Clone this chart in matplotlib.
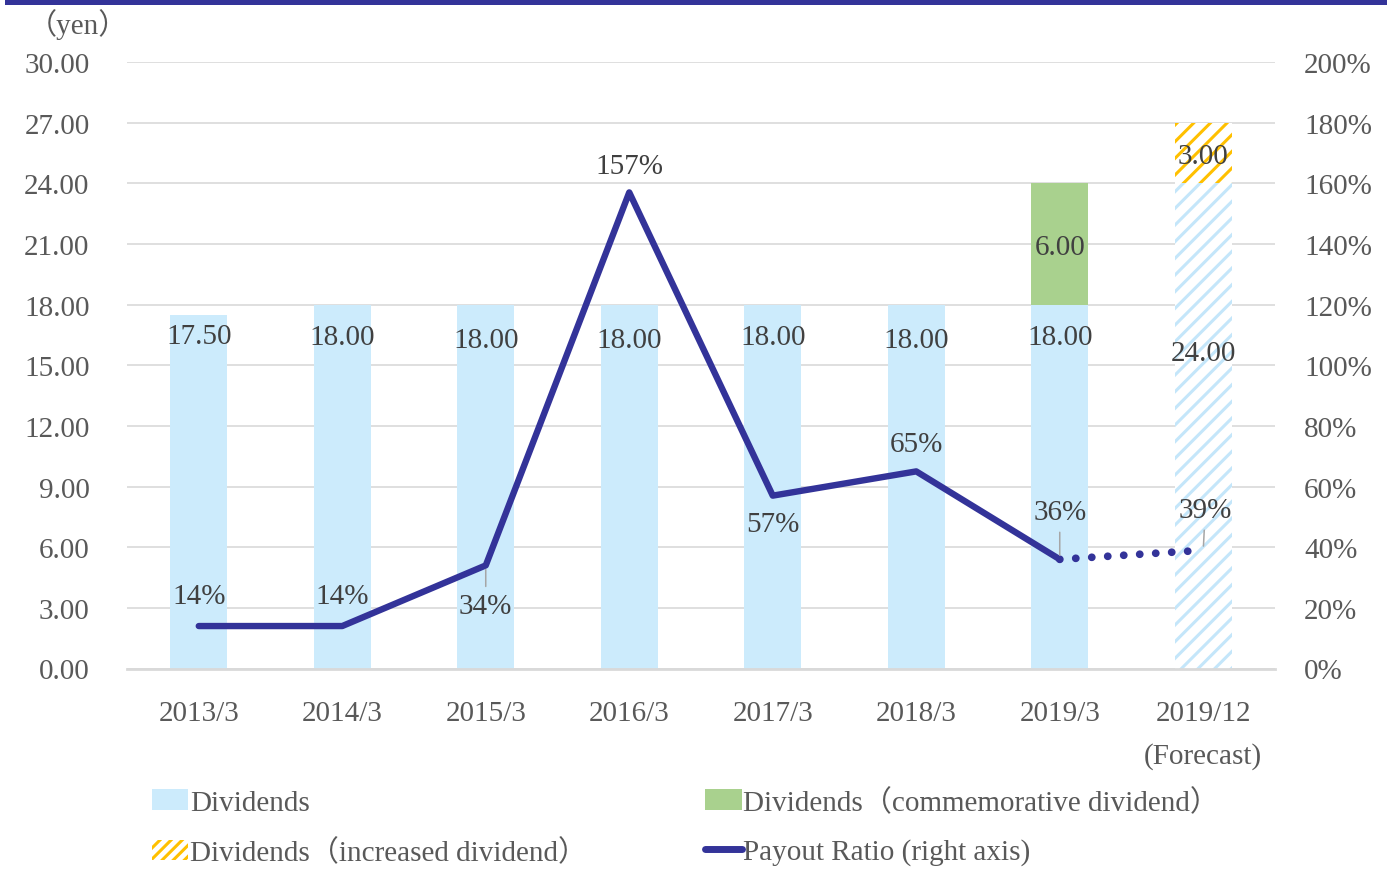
import matplotlib
matplotlib.use("Agg")
import matplotlib.pyplot as plt
from matplotlib.patches import Rectangle, Patch
from matplotlib.lines import Line2D
import numpy as np

# ---- data ----
categories = ["2013/3", "2014/3", "2015/3", "2016/3", "2017/3", "2018/3", "2019/3", "2019/12\n(Forecast)"]
dividends = [17.50, 18.00, 18.00, 18.00, 18.00, 18.00, 18.00, 24.00]
commemorative = [0, 0, 0, 0, 0, 0, 6.00, 0]
increased = [0, 0, 0, 0, 0, 0, 0, 3.00]
payout_ratio = [14, 14, 34, 157, 57, 65, 36, 39]  # percent

yen_ticks = np.arange(0, 30.01, 3)
pct_ticks = np.arange(0, 200.1, 20)

# ---- style ----
FONT = ["Liberation Serif", "Noto Sans CJK JP", "DejaVu Sans"]
plt.rcParams["font.family"] = FONT
plt.rcParams["hatch.linewidth"] = 2.2
FS = 21
C_BLUE = "#CCEBFC"
C_HATCH_BLUE = "#C4E6FA"
C_GREEN = "#A9D18E"
C_ORANGE = "#FFC000"
C_LINE = "#333399"
C_TEXT = "#404040"
C_TICK = "#595959"
C_GRID = "#D9D9D9"

fig = plt.figure(figsize=(13.87, 8.70), dpi=100)
ax = fig.add_axes([127 / 1387, 1 - 669.5 / 870, (1275 - 127) / 1387, (669.5 - 63) / 870])
ax2 = ax.twinx()

x = np.arange(len(categories))
w = 0.4
n = len(categories)

# base dividends; the forecast column is hatched
for i in range(n):
    if i == n - 1:
        ax.bar(x[i], dividends[i], width=w, color="white", edgecolor=C_HATCH_BLUE,
               hatch="//", linewidth=0, zorder=2)
    else:
        ax.bar(x[i], dividends[i], width=w, color=C_BLUE, linewidth=0, zorder=2)

base = np.array(dividends)
ax.bar(x, commemorative, width=w, bottom=base, color=C_GREEN, linewidth=0, zorder=2)
base2 = base + np.array(commemorative)
ax.bar(x, increased, width=w, bottom=base2, color="white", edgecolor=C_ORANGE,
       hatch="//", linewidth=0, zorder=2)

ax.set_xlim(-0.5, n - 0.5)
ax.set_ylim(0, 30)
ax.set_yticks(yen_ticks)
ax.set_yticklabels([f"{v:.2f}" for v in yen_ticks])
ax.set_xticks(x)
ax.set_xticklabels(categories, linespacing=1.75)
ax.grid(axis="y", color=C_GRID, linewidth=1.2, zorder=0)
ax.set_axisbelow(True)
for s in ["top", "right", "left"]:
    ax.spines[s].set_visible(False)
ax.spines["bottom"].set_color(C_GRID)
ax.spines["bottom"].set_linewidth(2)
ax.tick_params(axis="both", length=0, labelsize=FS, labelcolor=C_TICK)
ax.tick_params(axis="y", pad=27)
ax.tick_params(axis="x", pad=23)

ax2.set_ylim(0, 200)
ax2.set_yticks(pct_ticks)
ax2.set_yticklabels([f"{int(v)}%" for v in pct_ticks])
for s in ["top", "right", "left", "bottom"]:
    ax2.spines[s].set_visible(False)
ax2.tick_params(axis="y", length=0, labelsize=FS, labelcolor=C_TICK, pad=21)

# payout ratio: actual (solid) and forecast (dotted)
ax2.plot(x[:-1], payout_ratio[:-1], color=C_LINE, linewidth=4.6,
         solid_capstyle="round", solid_joinstyle="round", zorder=5)
ax2.plot(x[-2:], payout_ratio[-2:], color=C_LINE, linewidth=5.6,
         linestyle=(0, (0.01, 2.05)), dash_capstyle="round", zorder=5)

# bar value labels
base_label_y = [16.45, 16.4, 16.25, 16.25, 16.4, 16.25, 16.4, 15.6]
for i in range(n):
    ax.text(x[i], base_label_y[i], f"{dividends[i]:.2f}", ha="center", va="center",
            fontsize=FS, color=C_TEXT, zorder=6)
for i in range(n):
    if commemorative[i]:
        ax.text(x[i], dividends[i] + commemorative[i] / 2 - 0.15, f"{commemorative[i]:.2f}",
                ha="center", va="center", fontsize=FS, color=C_TEXT, zorder=6)
    if increased[i]:
        ax.text(x[i], base2[i] + increased[i] / 2 - 0.15, f"{increased[i]:.2f}",
                ha="center", va="center", fontsize=FS, color=C_TEXT, zorder=6)

# payout labels: (dx, dy) offsets in pixels, leader flag
pct_offsets = [(0, 30), (0, 30), (0, -41), (0, 26), (0, -28), (0, 27), (0, 47), (2, 40)]
pct_leader = [False, False, True, False, False, False, True, True]
px = 72 / 100
for i in range(n):
    dx, dy = pct_offsets[i]
    kw = {}
    if pct_leader[i]:
        kw["arrowprops"] = dict(arrowstyle="-", color="#A6A6A6", lw=1.1,
                                shrinkA=3, shrinkB=3)
    ax2.annotate(f"{payout_ratio[i]}%", xy=(x[i], payout_ratio[i]),
                 xytext=(dx * px, dy * px), textcoords="offset points",
                 ha="center", va="center", fontsize=FS, color=C_TEXT, zorder=7, **kw)

# unit label and top rule
fig.text(28 / 1387, 1 - 25 / 870, "（yen）", fontsize=FS, color=C_TICK,
         ha="left", va="center", family=FONT)
fig.add_artist(Rectangle((5 / 1387, 1 - 6 / 870), 1 - 5 / 1387, 6 / 870,
                         transform=fig.transFigure, color=C_LINE, linewidth=0))

# legend
handles = [
    Patch(facecolor=C_BLUE, linewidth=0),
    Patch(facecolor="white", edgecolor=C_ORANGE, hatch="///", linewidth=0),
    Patch(facecolor=C_GREEN, linewidth=0),
    Line2D([0], [0], color=C_LINE, linewidth=5, solid_capstyle="round"),
]
labels = ["Dividends", "Dividends（increased dividend）",
          "Dividends（commemorative dividend）", "Payout Ratio (right axis)"]
leg = fig.legend(handles, labels, ncol=2, loc="upper left",
                 bbox_to_anchor=(152 / 1387, 1 - 789 / 870), frameon=False,
                 fontsize=FS, handlelength=1.25, handleheight=0.7, handletextpad=0.05,
                 columnspacing=4.05, labelspacing=0.78, borderpad=0, borderaxespad=0)
for t in leg.get_texts():
    t.set_color(C_TICK)

fig.savefig("out.png", dpi=100)
